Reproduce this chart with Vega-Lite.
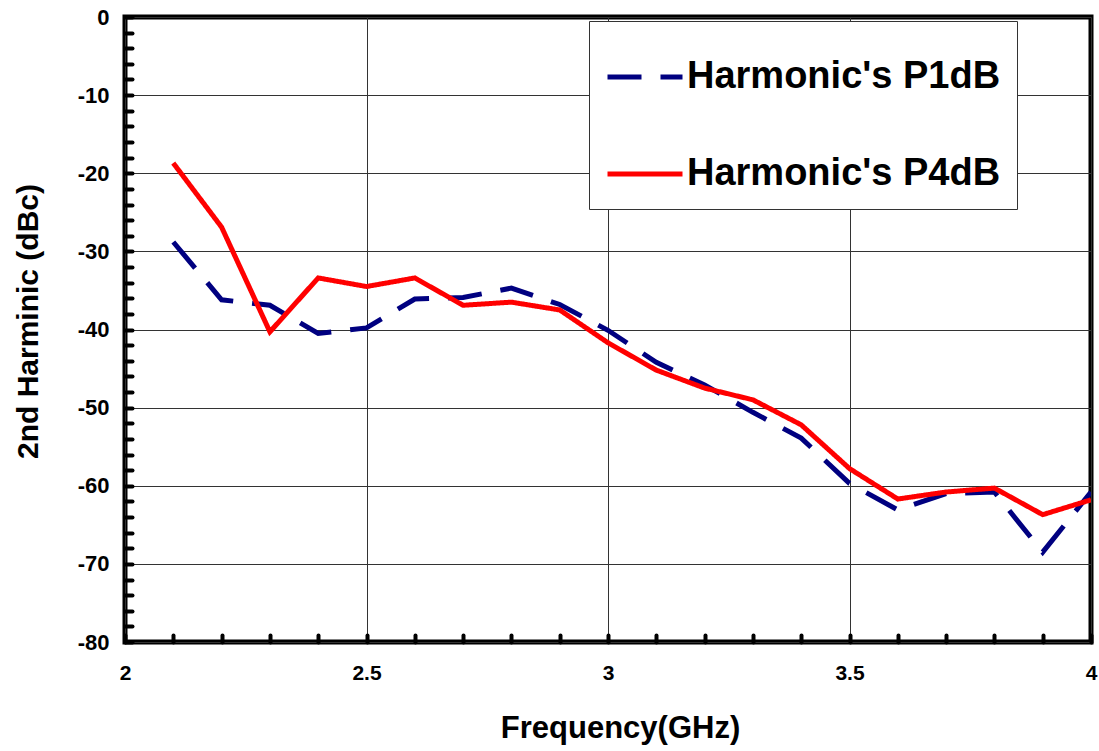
{
  "$schema": "https://vega.github.io/schema/vega-lite/v6.json",
  "width": 966,
  "height": 625,
  "autosize": {"type": "none"},
  "padding": {"left": 125, "top": 17, "right": 8, "bottom": 109},
  "background": "white",
  "config": {
    "view": {"stroke": "black", "strokeWidth": 5},
    "font": "Liberation Sans"
  },
  "data": {
    "values": [
      {"f": 2.1, "v": -28.8, "s": "Harmonic's P1dB"},
      {"f": 2.2, "v": -36.2, "s": "Harmonic's P1dB"},
      {"f": 2.3, "v": -36.9, "s": "Harmonic's P1dB"},
      {"f": 2.4, "v": -40.5, "s": "Harmonic's P1dB"},
      {"f": 2.5, "v": -39.8, "s": "Harmonic's P1dB"},
      {"f": 2.6, "v": -36.1, "s": "Harmonic's P1dB"},
      {"f": 2.7, "v": -35.9, "s": "Harmonic's P1dB"},
      {"f": 2.8, "v": -34.7, "s": "Harmonic's P1dB"},
      {"f": 2.9, "v": -36.8, "s": "Harmonic's P1dB"},
      {"f": 3.0, "v": -40.1, "s": "Harmonic's P1dB"},
      {"f": 3.1, "v": -44.2, "s": "Harmonic's P1dB"},
      {"f": 3.2, "v": -47.1, "s": "Harmonic's P1dB"},
      {"f": 3.3, "v": -50.6, "s": "Harmonic's P1dB"},
      {"f": 3.4, "v": -53.9, "s": "Harmonic's P1dB"},
      {"f": 3.5, "v": -59.7, "s": "Harmonic's P1dB"},
      {"f": 3.6, "v": -63.1, "s": "Harmonic's P1dB"},
      {"f": 3.7, "v": -61.0, "s": "Harmonic's P1dB"},
      {"f": 3.8, "v": -60.8, "s": "Harmonic's P1dB"},
      {"f": 3.9, "v": -68.5, "s": "Harmonic's P1dB"},
      {"f": 4.0, "v": -60.8, "s": "Harmonic's P1dB"},
      {"f": 2.1, "v": -18.7, "s": "Harmonic's P4dB"},
      {"f": 2.2, "v": -26.9, "s": "Harmonic's P4dB"},
      {"f": 2.3, "v": -40.3, "s": "Harmonic's P4dB"},
      {"f": 2.4, "v": -33.4, "s": "Harmonic's P4dB"},
      {"f": 2.5, "v": -34.5, "s": "Harmonic's P4dB"},
      {"f": 2.6, "v": -33.4, "s": "Harmonic's P4dB"},
      {"f": 2.7, "v": -36.9, "s": "Harmonic's P4dB"},
      {"f": 2.8, "v": -36.5, "s": "Harmonic's P4dB"},
      {"f": 2.9, "v": -37.5, "s": "Harmonic's P4dB"},
      {"f": 3.0, "v": -41.7, "s": "Harmonic's P4dB"},
      {"f": 3.1, "v": -45.2, "s": "Harmonic's P4dB"},
      {"f": 3.2, "v": -47.5, "s": "Harmonic's P4dB"},
      {"f": 3.3, "v": -49.0, "s": "Harmonic's P4dB"},
      {"f": 3.4, "v": -52.2, "s": "Harmonic's P4dB"},
      {"f": 3.5, "v": -57.8, "s": "Harmonic's P4dB"},
      {"f": 3.6, "v": -61.7, "s": "Harmonic's P4dB"},
      {"f": 3.7, "v": -60.8, "s": "Harmonic's P4dB"},
      {"f": 3.8, "v": -60.3, "s": "Harmonic's P4dB"},
      {"f": 3.9, "v": -63.7, "s": "Harmonic's P4dB"},
      {"f": 4.0, "v": -61.8, "s": "Harmonic's P4dB"}
    ]
  },
  "mark": {"type": "line", "strokeWidth": 5, "clip": true},
  "encoding": {
    "x": {
      "field": "f",
      "type": "quantitative",
      "scale": {"domain": [2, 4], "nice": false, "zero": false},
      "axis": {
        "values": [2, 2.1, 2.2, 2.3, 2.4, 2.5, 2.6, 2.7, 2.8, 2.9, 3, 3.1, 3.2, 3.3, 3.4, 3.5, 3.6, 3.7, 3.8, 3.9, 4],
        "labelExpr": "round(datum.value*10) % 5 === 0 ? toString(datum.value) : ''",
        "domain": false,
        "grid": true,
        "gridColor": "#333333",
        "gridWidth": 1,
        "gridOpacity": {"condition": {"test": "round(datum.value*10) % 5 === 0", "value": 1}, "value": 0},
        "tickSize": -7,
        "tickWidth": 4,
        "tickColor": "black",
        "tickCap": "round",
        "labelFont": "Liberation Sans",
        "labelFontSize": 21,
        "labelFontWeight": "bold",
        "labelColor": "black",
        "labelPadding": 27,
        "labelFlush": false,
        "labelOverlap": false,
        "title": "Frequency(GHz)",
        "titleFont": "Liberation Sans",
        "titleFontSize": 31,
        "titleFontWeight": "bold",
        "titleColor": "black",
        "titleX": 495,
        "titleY": 95,
        "titleBaseline": "alphabetic"
      }
    },
    "y": {
      "field": "v",
      "type": "quantitative",
      "scale": {"domain": [-80, 0], "nice": false, "zero": false},
      "axis": {
        "values": [0, -2, -4, -6, -8, -10, -12, -14, -16, -18, -20, -22, -24, -26, -28, -30, -32, -34, -36, -38, -40, -42, -44, -46, -48, -50, -52, -54, -56, -58, -60, -62, -64, -66, -68, -70, -72, -74, -76, -78, -80],
        "labelExpr": "datum.value % 10 === 0 ? toString(datum.value) : ''",
        "domain": false,
        "grid": true,
        "gridColor": "#333333",
        "gridWidth": 1,
        "gridOpacity": {"condition": {"test": "datum.value % 10 === 0", "value": 1}, "value": 0},
        "tickSize": -7,
        "tickWidth": 4,
        "tickColor": "black",
        "tickCap": "round",
        "labelFont": "Liberation Sans",
        "labelFontSize": 22,
        "labelFontWeight": "bold",
        "labelColor": "black",
        "labelPadding": 23,
        "labelFlush": false,
        "labelOverlap": false,
        "title": "2nd Harminic (dBc)",
        "titleFont": "Liberation Sans",
        "titleFontSize": 30,
        "titleFontWeight": "bold",
        "titleColor": "black",
        "titleAngle": -90,
        "titleX": -88,
        "titleY": 304,
        "titleBaseline": "alphabetic"
      }
    },
    "color": {
      "field": "s",
      "type": "nominal",
      "scale": {"domain": ["Harmonic's P1dB", "Harmonic's P4dB"], "range": ["#000080", "#FF0000"]},
      "legend": {
        "title": null,
        "orient": "none",
        "legendX": 464,
        "legendY": 4,
        "direction": "vertical",
        "padding": 16,
        "strokeColor": "#333333",
        "fillColor": "white",
        "symbolType": "stroke",
        "symbolSize": 5625,
        "symbolStrokeWidth": 5,
        "labelFont": "Liberation Sans",
        "labelFontSize": 38,
        "labelFontWeight": "bold",
        "labelColor": "black",
        "labelLimit": 600,
        "labelOffset": 2,
        "rowPadding": 38
      }
    },
    "strokeDash": {
      "field": "s",
      "type": "nominal",
      "scale": {"domain": ["Harmonic's P1dB", "Harmonic's P4dB"], "range": [[34, 19], [1, 0]]},
      "legend": null
    }
  }
}
